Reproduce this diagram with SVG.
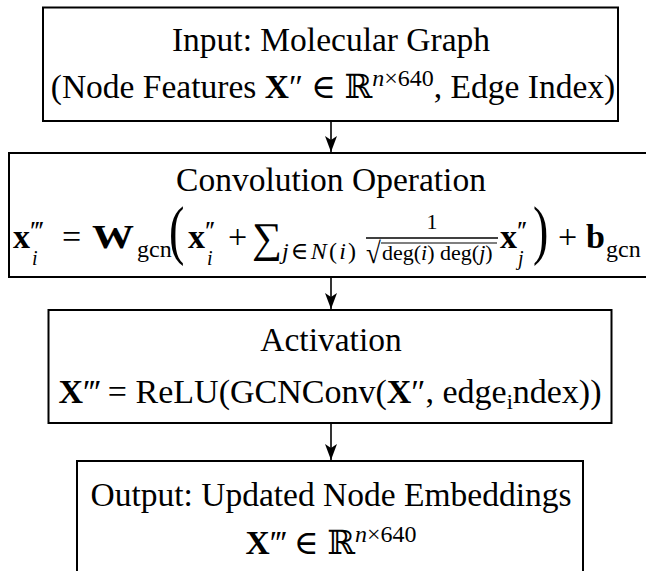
<svg xmlns="http://www.w3.org/2000/svg" width="646" height="571" viewBox="0 0 646 571">
  <style>
    .box { fill: #fff; stroke: #000; stroke-width: 2; }
    .t { font-family: "Liberation Serif", "DejaVu Serif", serif; font-size: 33.5px; fill: #000; }
    .m { font-family: "Liberation Serif", "DejaVu Serif", serif; fill: #000; font-size: 34px; }
    .p { font-size: 28px; letter-spacing: -2px; }
    .b { font-weight: bold; }
    .it { font-style: italic; }
    .s { font-size: 24px; }
    .ss { font-size: 22px; }
    .sub { font-size: 20px; font-style: italic; }
    .big { font-size: 66px; }
    .edge { stroke: #000; stroke-width: 1.6; fill: none; marker-end: url(#head); }
  </style>
  <defs>
    <marker id="head" viewBox="0 0 16 12" refX="16" refY="6" markerWidth="16" markerHeight="12" markerUnits="userSpaceOnUse" orient="auto">
      <path d="M0,0 L16,6 L0,12 L4,6 Z" fill="#000"/>
    </marker>
  </defs>

  <rect width="646" height="571" fill="#fff"/>

  <!-- connectors -->
  <g id="connectors">
    <line class="edge" x1="331" y1="121" x2="331" y2="152"/>
    <line class="edge" x1="331" y1="277" x2="331" y2="309"/>
    <line class="edge" x1="331" y1="423" x2="331" y2="460"/>
  </g>

  <!-- input -->
  <g id="input">
    <rect class="box" x="43" y="7.5" width="575" height="113.5"/>
    <text class="t" x="331" y="51" text-anchor="middle">Input: Molecular Graph</text>
    <text class="t" x="333" y="98" text-anchor="middle">(Node Features <tspan class="b">X</tspan>″ ∈ ℝ<tspan class="it s" dy="-12">n</tspan><tspan class="s">×640</tspan><tspan dy="12">, Edge Index)</tspan></text>
  </g>

  <!-- convolution -->
  <g id="convolution">
    <rect class="box" x="9" y="153" width="646" height="124"/>
    <text class="t" x="331" y="191" text-anchor="middle">Convolution Operation</text>
    <!-- x_i''' -->
    <text class="m"><tspan class="b" x="13" y="248">x</tspan><tspan class="p" x="30" y="240">′′′</tspan><tspan class="sub" x="32" y="265">i</tspan></text>
    <text class="m" x="62" y="248">=</text>
    <text class="m b" x="92" y="248" textLength="42" lengthAdjust="spacingAndGlyphs">W</text>
    <text class="m s" x="137" y="257">gcn</text>
    <text class="m big" transform="translate(169,252) scale(0.7,1)">(</text>
    <!-- x_i'' -->
    <text class="m"><tspan class="b" x="188" y="248">x</tspan><tspan class="p" x="205" y="240">′′</tspan><tspan class="sub" x="207" y="265">i</tspan></text>
    <text class="m" x="228" y="248">+</text>
    <text class="m" x="252" y="252" style="font-size:42px">∑</text>
    <text class="m s" x="282" y="259" textLength="74" lengthAdjust="spacing"><tspan class="it">j</tspan>∈<tspan class="it">N</tspan>(<tspan class="it">i</tspan>)</text>
    <!-- fraction -->
    <text class="m ss" x="432" y="229" text-anchor="middle">1</text>
    <line x1="366" y1="238" x2="498" y2="238" stroke="#000" stroke-width="1.3"/>
    <text class="m" transform="translate(366,263) scale(1,1.1)" style="font-size:27px">√</text>
    <line x1="381" y1="243" x2="497" y2="243" stroke="#000" stroke-width="1.2"/>
    <text class="m ss" x="382" y="260">deg(<tspan class="it">i</tspan>) deg(<tspan class="it">j</tspan>)</text>
    <!-- x_j'' -->
    <text class="m"><tspan class="b" x="500" y="248">x</tspan><tspan class="p" x="517" y="240">′′</tspan><tspan class="sub" x="518" y="265">j</tspan></text>
    <text class="m big" transform="translate(533,252) scale(0.7,1)">)</text>
    <text class="m" x="558" y="248">+</text>
    <text class="m b" x="586" y="248">b</text>
    <text class="m s" x="606" y="257">gcn</text>
  </g>

  <!-- activation -->
  <g id="activation">
    <rect class="box" x="48.5" y="310" width="563" height="113"/>
    <text class="t" x="331" y="351" text-anchor="middle">Activation</text>
    <text class="t" x="330" y="403" text-anchor="middle" style="font-size:34px"><tspan class="b">X</tspan><tspan letter-spacing="-2">′′′</tspan> = ReLU(GCNConv(<tspan class="b">X</tspan>″, edge<tspan class="ss" dy="6">i</tspan><tspan dy="-6">ndex))</tspan></text>
  </g>

  <!-- output -->
  <g id="output">
    <rect class="box" x="77" y="461" width="506" height="130"/>
    <text class="t" x="331" y="506" text-anchor="middle">Output: Updated Node Embeddings</text>
    <text class="t" x="331" y="554" text-anchor="middle"><tspan class="b">X</tspan><tspan letter-spacing="-2">′′′</tspan> ∈ ℝ<tspan class="it s" dy="-12">n</tspan><tspan class="s">×640</tspan></text>
  </g>
</svg>
